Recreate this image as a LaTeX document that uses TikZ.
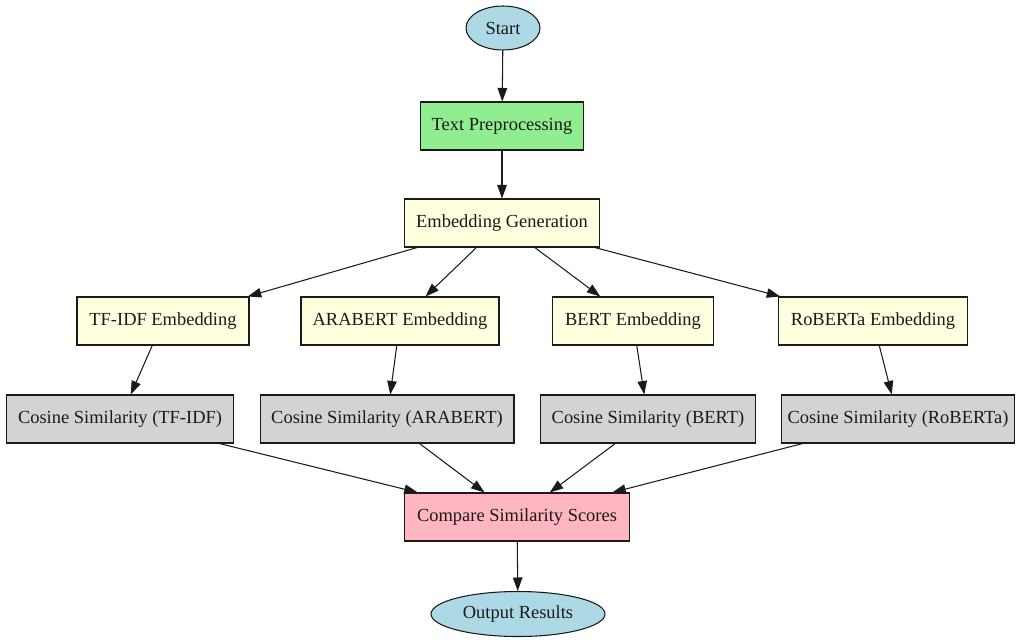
\documentclass[tikz,border=0pt]{standalone}
\usepackage{fontspec}
\setmainfont{Liberation Serif}
\usepackage{tikz}
\usetikzlibrary{arrows.meta,shapes.geometric}
\definecolor{startMavi}{HTML}{ADD8E6}
\definecolor{acikYesil}{HTML}{90EE90}
\definecolor{acikSari}{HTML}{FFFFE0}
\definecolor{acikGri}{HTML}{D3D3D3}
\definecolor{acikPembe}{HTML}{FFB6C1}
\definecolor{koyuGri}{HTML}{1A1A1A}

\begin{document}
\begin{tikzpicture}[x=0.02cm, y=-0.02cm,
  every node/.style={font=\fontsize{10.5}{12.5}\selectfont, text=koyuGri},
  kutu/.style={draw=koyuGri, line width=0.6pt, rectangle, minimum height=0.96cm, inner sep=0pt},
  uc/.style={draw=koyuGri, line width=0.6pt, ellipse, fill=startMavi, inner sep=0pt},
  ok/.style={-{Triangle[length=0.27cm,width=0.19cm]}, line width=0.6pt, draw=koyuGri}]
\useasboundingbox (0,0) rectangle (1017,639);
\node[uc,minimum width=1.48cm,minimum height=0.88cm] (start) at (503,28) {Start};
\node[kutu,fill=acikYesil,minimum width=3.26cm] (prep) at (502,126) {Text Preprocessing};
\node[kutu,fill=acikSari,minimum width=3.9cm] (embgen) at (502,223) {Embedding Generation};
\node[kutu,fill=acikSari,minimum width=3.44cm] (tfidf) at (163,321) {TF-IDF Embedding};
\node[kutu,fill=acikSari,minimum width=3.96cm] (arabert) at (400,321) {ARABERT Embedding};
\node[kutu,fill=acikSari,minimum width=3.22cm] (bert) at (633,321) {BERT Embedding};
\node[kutu,fill=acikSari,minimum width=3.78cm] (roberta) at (873,321) {RoBERTa Embedding};
\node[kutu,fill=acikGri,minimum width=4.54cm] (cos1) at (120,419) {Cosine Similarity (TF-IDF)};
\node[kutu,fill=acikGri,minimum width=5.08cm] (cos2) at (387,419) {Cosine Similarity (ARABERT)};
\node[kutu,fill=acikGri,minimum width=4.3cm] (cos3) at (648,419) {Cosine Similarity (BERT)};
\node[kutu,fill=acikGri,minimum width=4.66cm] (cos4) at (898,419) {Cosine Similarity (RoBERTa)};
\node[kutu,fill=acikPembe,minimum width=4.5cm] (compare) at (517,517) {Compare Similarity Scores};
\node[uc,minimum width=3.48cm,minimum height=0.9cm] (output) at (518,614) {Output Results};
\draw[ok] (start)--(prep); \draw[ok] (prep)--(embgen);
\foreach \e/\c in {tfidf/cos1, arabert/cos2, bert/cos3, roberta/cos4}{
  \draw[ok] (embgen)--(\e);
  \draw[ok] (\e)--(\c);
  \draw[ok] (\c)--(compare);
}
\draw[ok] (compare)--(output);
\end{tikzpicture}
\end{document}
